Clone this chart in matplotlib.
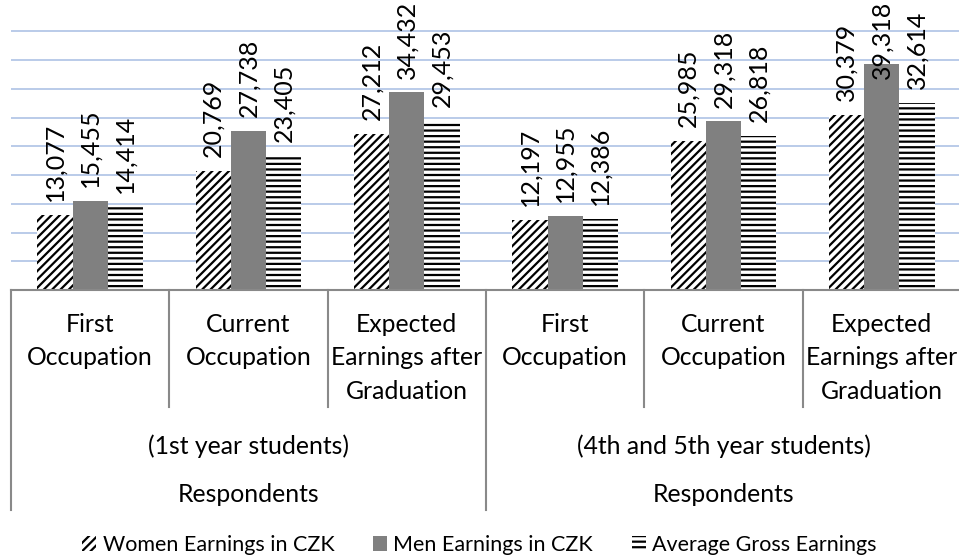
import matplotlib.pyplot as plt
from matplotlib.transforms import blended_transform_factory

# values
categories = ["First\nOccupation", "Current\nOccupation", "Expected\nEarnings after\nGraduation"] * 2
groups = ["(1st year students)", "(4th and 5th year students)"]
top_label = "Respondents"
women = [13077, 20769, 27212, 12197, 25985, 30379]
men = [15455, 27738, 34432, 12955, 29318, 39318]
average = [14414, 23405, 29453, 12386, 26818, 32614]
series_names = ["Women Earnings in CZK", "Men Earnings in CZK", "Average Gross Earnings"]

plt.rcParams['font.family'] = ['Lato', 'DejaVu Sans']
plt.rcParams['hatch.linewidth'] = 1.6

W, H = 959, 560
fig = plt.figure(figsize=(W / 100, H / 100), dpi=100)

# plot area in pixels: left 11, bottom 290, right 961, top ~2.6
ax = fig.add_axes([11 / W, (H - 290) / H, 950 / W, 287.4 / H])
ax.set_xlim(0, 6)
ax.set_ylim(0, 50000)

x = [i + 0.5 for i in range(6)]
bw = 0.223
styles = [
    dict(color='white', edgecolor='black', hatch='////', linewidth=0),
    dict(color='#808080', linewidth=0),
    dict(color='white', edgecolor='black', hatch='---', linewidth=0),
]
bars = []
labels = []
for k, (vals, st) in enumerate(zip([women, men, average], styles)):
    pos = [xi + (k - 1) * bw for xi in x]
    b = ax.bar(pos, vals, width=bw, label=series_names[k], zorder=2, **st)
    bars.append(b)
    for p, v in zip(pos, vals):
        t = ax.annotate(f"{v:,}", (p, v), xytext=(0, 10), textcoords='offset points',
                        rotation=90, ha='center', va='bottom', fontsize=18, color='black',
                        zorder=3)
        labels.append(t)

# gridlines
ax.set_yticks(range(5000, 50000, 5000))
ax.yaxis.grid(True, color='#b4c7e7', linewidth=1.3)
ax.set_axisbelow(True)
ax.tick_params(left=False, labelleft=False, bottom=False, labelbottom=False)
for s in ['left', 'right', 'top']:
    ax.spines[s].set_visible(False)
ax.spines['bottom'].set_color('#898989')
ax.spines['bottom'].set_linewidth(1.5)

# multi-level category axis
tr = blended_transform_factory(ax.transData, fig.transFigure)
def fy(p):
    return (H - p) / H

sep_col = '#898989'
for xs in [0, 3, 6]:
    ax.plot([xs, xs], [fy(290), fy(510)], transform=tr, color=sep_col, lw=1.5, clip_on=False)
for xs in [1, 2, 4, 5]:
    ax.plot([xs, xs], [fy(290), fy(407)], transform=tr, color=sep_col, lw=1.5, clip_on=False)

for xi, lab in zip(x, categories):
    ax.text(xi, fy(313), lab, transform=tr, ha='center', va='top', fontsize=17.8,
            linespacing=1.55)
for g, gx in zip(groups, [1.5, 4.5]):
    ax.text(gx, fy(446), g, transform=tr, ha='center', va='center', fontsize=17.8)
    ax.text(gx, fy(494), top_label, transform=tr, ha='center', va='center', fontsize=17.8)

fig.legend(handles=bars, loc='center', bbox_to_anchor=(0.5, fy(545)), ncol=3,
           frameon=False, fontsize=15.5, handlelength=0.65, handleheight=0.65,
           handletextpad=0.3, columnspacing=1.8)

# keep data labels inside the picture (pushed down over the bar like the original)
fig.canvas.draw()
for t in labels:
    bb = t.get_window_extent()
    over = bb.y1 - (H - 1)
    if over > 0:
        ox, oy = t.xyann
        t.xyann = (ox, oy - over * 72 / 100)

fig.savefig('out.png', dpi=100)
